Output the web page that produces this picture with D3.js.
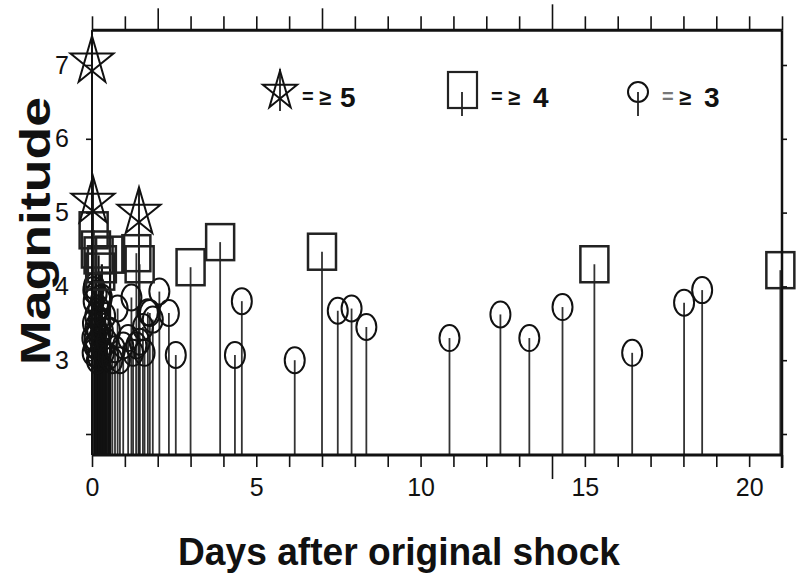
<!DOCTYPE html>
<html>
<head>
<meta charset="utf-8">
<script src="https://cdn.jsdelivr.net/npm/d3@7"></script>
<style>
  body { margin: 0; background: #fff; }
  svg { display: block; }
  text { font-family: "Liberation Sans", Arial, Helvetica, sans-serif; fill: #111; }
</style>
</head>
<body>
<svg width="801" height="576"></svg>
<script>
// magnitude >= 5
const starDays = [0, 0.03, 1.43];
const starMags = [7.05, 5.15, 5.0];

// magnitude >= 4
const squareDays = [0.05, 0.12, 0.2, 0.25, 0.3, 0.55, 1.35, 1.45, 3.0, 3.9, 7.0, 15.29, 20.95];
const squareMags = [4.76, 4.5, 4.42, 4.2, 4.3, 4.43, 4.45, 4.3, 4.26, 4.6, 4.47, 4.3, 4.22];

// magnitude >= 3
const circleDays = [0.01, 0.02, 0.03, 0.04, 0.05, 0.06, 0.07, 0.08, 0.1, 0.11, 0.12, 0.14, 0.15, 0.16,
  0.18, 0.2, 0.21, 0.22, 0.25, 0.27, 0.28, 0.3, 0.33, 0.36, 0.4, 0.45, 0.5, 0.55, 0.62, 0.7, 0.78,
  0.85, 0.95, 1.1, 1.2, 1.25, 1.35, 1.45, 1.55, 1.6, 1.7, 1.76, 1.85, 2.05, 2.34, 2.55,
  4.35, 4.56, 6.17, 7.48, 7.9, 8.35, 10.88, 12.43, 13.31, 14.32, 16.44, 18.02, 18.57];
const circleMags = [3.3, 3.1, 3.5, 3.95, 3.8, 4.0, 3.2, 3.3, 3.6, 3.45, 3.2, 3.9, 3.0, 3.4,
  3.05, 3.7, 3.55, 3.3, 3.5, 3.8, 3.15, 3.85, 3.4, 3.1, 3.6, 3.25, 3.05, 3.4, 3.0, 3.15, 3.7,
  3.0, 3.2, 3.3, 3.85, 3.1, 3.2, 3.25, 3.45, 3.1, 3.65, 3.64, 3.55, 3.93, 3.64, 3.07,
  3.07, 3.8, 3.0, 3.67, 3.7, 3.45, 3.3, 3.62, 3.3, 3.72, 3.1, 3.78, 3.95];

const xTicks = d3.range(0, 22);
const xLabels = [0, 5, 10, 15, 20];
const yTicks = [2, 3, 4, 5, 6, 7];
const yLabels = [3, 4, 5, 6, 7];

const svg = d3.select('svg');
const x = d3.scaleLinear().domain([0, 21]).range([92, 782]);
const y = d3.scaleLinear().domain([2, 7]).range([434, 65]);
const yLo = 1.715, yHi = 7.47;

// stems, darker in the crowded first days
function drawStems(days, mags) {
  svg.append('g').selectAll('line').data(days).join('line')
    .attr('x1', d => x(d)).attr('x2', d => x(d))
    .attr('y1', y(yLo))
    .attr('y2', (d, i) => y(mags[i]))
    .attr('stroke', d => d < 0.6 ? '#111' : '#333')
    .attr('stroke-width', d => d < 0.6 ? 2.2 : 1.8);
}
drawStems(circleDays, circleMags);
drawStems(squareDays, squareMags);

// star stems go to the top of the star
const starR = 22.6, starSy = 1.12;
svg.append('g').selectAll('line').data(starDays).join('line')
  .attr('x1', d => x(d)).attr('x2', d => x(d))
  .attr('y1', y(yLo))
  .attr('y2', (d, i) => i === 0 ? y(yHi) : y(starMags[i]) - starR * starSy)
  .attr('stroke', '#222').attr('stroke-width', 2);

// circles
svg.append('g').selectAll('ellipse').data(circleDays).join('ellipse')
  .attr('cx', d => x(d)).attr('cy', (d, i) => y(circleMags[i]))
  .attr('rx', 10).attr('ry', 13)
  .attr('fill', 'none').attr('stroke', '#111').attr('stroke-width', 2);

// squares
svg.append('g').selectAll('rect').data(squareDays).join('rect')
  .attr('x', d => x(d) - 14).attr('y', (d, i) => y(squareMags[i]) - 18)
  .attr('width', 28).attr('height', 36)
  .attr('fill', 'none').attr('stroke', '#222').attr('stroke-width', 2.5);

// pentagram
function starPath(cx, cy, R, sy) {
  const pts = d3.range(5).map(k => {
    const a = -Math.PI / 2 + k * 2 * Math.PI / 5;
    return [cx + R * Math.cos(a), cy + R * sy * Math.sin(a)];
  });
  const order = [0, 2, 4, 1, 3];
  return 'M' + order.map(k => pts[k].join(',')).join('L') + 'Z';
}
svg.append('g').selectAll('path').data(starDays).join('path')
  .attr('d', (d, i) => starPath(x(d), y(starMags[i]), starR, starSy))
  .attr('fill', 'none').attr('stroke', '#111').attr('stroke-width', 2);

// axes
const fontTick = 25;
const axBottom = svg.append('g').attr('transform', `translate(0,${y(yLo)})`)
  .call(d3.axisBottom(x).tickValues(xTicks).tickSize(12).tickPadding(11)
    .tickFormat(d => xLabels.includes(d) ? d : ''));
axBottom.selectAll('.tick line').attr('y2', d => d === 14 ? 24 : 12);
const axTop = svg.append('g').attr('transform', `translate(0,${y(yHi)})`)
  .call(d3.axisTop(x).tickValues(xTicks).tickSize(14).tickFormat(''));
axTop.selectAll('.tick line').attr('y2', d => d === 14 ? -26 : (d === 2 || d === 7) ? -22 : -14);
const axLeft = svg.append('g').attr('transform', `translate(${x(0)},0)`)
  .call(d3.axisLeft(y).tickValues(yTicks).tickSize(6).tickPadding(17)
    .tickFormat(d => yLabels.includes(d) ? d : ''));
const axRight = svg.append('g').attr('transform', `translate(${x(21)},0)`)
  .call(d3.axisRight(y).tickValues(yTicks).tickSize(5).tickFormat(''));

[axBottom, axTop, axLeft, axRight].forEach(g => {
  g.select('.domain').remove();
  g.selectAll('.tick line').attr('stroke', '#111').attr('stroke-width', 1.6);
  g.selectAll('.tick text').attr('font-size', fontTick).attr('fill', '#111')
    .style('font-family', '"Liberation Sans", Arial, sans-serif');
});

// frame
const frame = svg.append('g').attr('stroke', '#111').attr('fill', 'none');
frame.append('line').attr('x1', x(0)).attr('x2', x(21)).attr('y1', y(yLo)).attr('y2', y(yLo)).attr('stroke-width', 3);
frame.append('line').attr('x1', x(0)).attr('x2', x(21)).attr('y1', y(yHi)).attr('y2', y(yHi)).attr('stroke-width', 3);
frame.append('line').attr('x1', x(0)).attr('x2', x(0)).attr('y1', y(yHi)).attr('y2', y(yLo)).attr('stroke-width', 2);
frame.append('line').attr('x1', x(21)).attr('x2', x(21)).attr('y1', y(yHi)).attr('y2', y(yLo) + 13).attr('stroke-width', 2.5);

// legend
const lg = svg.append('g');
lg.append('line').attr('x1', 280).attr('x2', 280).attr('y1', 69).attr('y2', 111).attr('stroke', '#222').attr('stroke-width', 1.8);
lg.append('path').attr('d', starPath(280, 91, 18, 1.12)).attr('fill', 'none').attr('stroke', '#111').attr('stroke-width', 2);
lg.append('rect').attr('x', 448).attr('y', 72).attr('width', 29).attr('height', 36)
  .attr('fill', 'none').attr('stroke', '#222').attr('stroke-width', 2.2);
lg.append('line').attr('x1', 462).attr('x2', 462).attr('y1', 92).attr('y2', 116).attr('stroke', '#222').attr('stroke-width', 1.8);
lg.append('ellipse').attr('cx', 638).attr('cy', 92).attr('rx', 10).attr('ry', 10)
  .attr('fill', 'none').attr('stroke', '#111').attr('stroke-width', 2);
lg.append('line').attr('x1', 638).attr('x2', 638).attr('y1', 92).attr('y2', 116).attr('stroke', '#222').attr('stroke-width', 1.8);

const legendText = [
  {x0: 302, label: '5'},
  {x0: 491, label: '4'},
  {x0: 662, label: '3'}
];
legendText.forEach((t, i) => {
  lg.append('text').attr('x', t.x0).attr('y', 103).attr('font-size', 20).attr('font-weight', 'bold')
    .style('fill', i === 2 ? '#777' : '#111').text('=');
  lg.append('text').attr('x', t.x0 + 17).attr('y', 105).attr('font-size', 22).attr('font-weight', 'bold').text('≥');
  lg.append('text').attr('x', t.x0 + 38 + (i > 0 ? 4 : 0)).attr('y', 107).attr('font-size', 28).attr('font-weight', 'bold').text(t.label);
});

// axis titles
svg.append('text')
  .attr('transform', 'translate(50,231) rotate(-90)')
  .attr('text-anchor', 'middle')
  .attr('font-size', 42).attr('font-weight', 'bold')
  .attr('textLength', 268).attr('lengthAdjust', 'spacingAndGlyphs')
  .text('Magnitude');
svg.append('text')
  .attr('x', 399).attr('y', 565)
  .attr('text-anchor', 'middle')
  .attr('font-size', 38).attr('font-weight', 'bold')
  .attr('textLength', 442).attr('lengthAdjust', 'spacingAndGlyphs')
  .text('Days after original shock');
</script>
</body>
</html>
